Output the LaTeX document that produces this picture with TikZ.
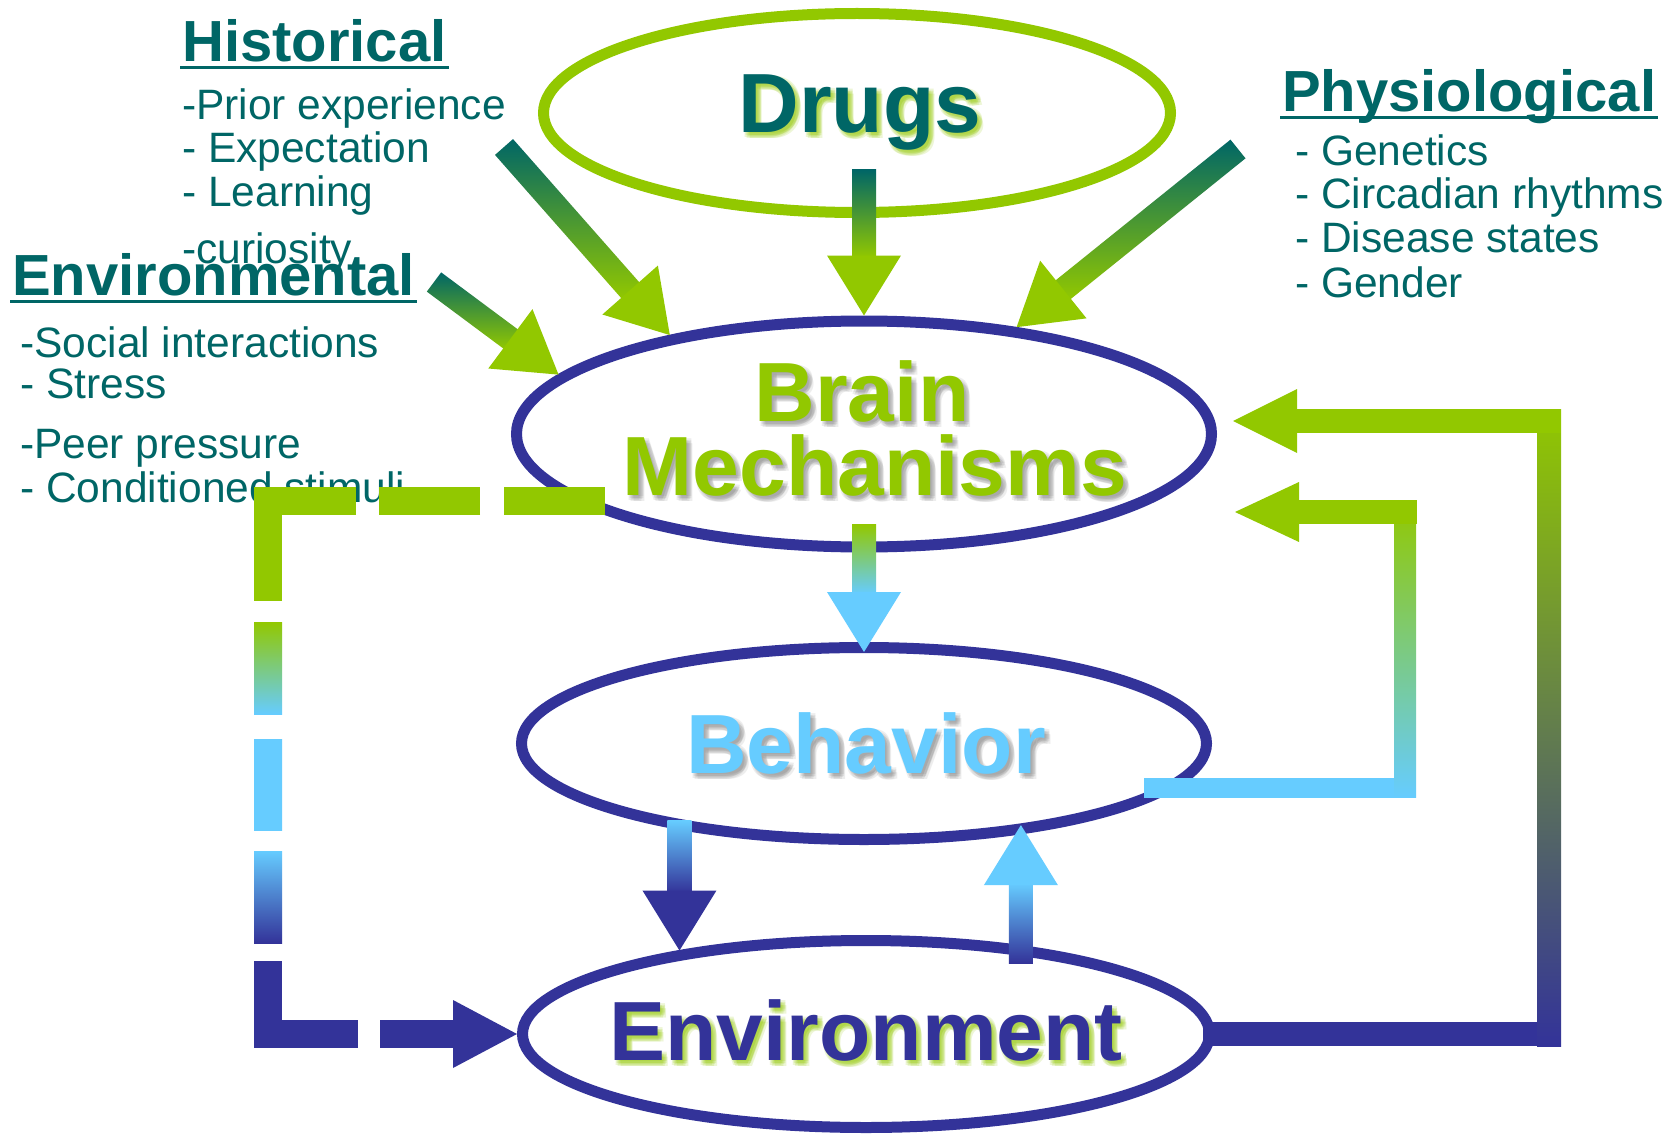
\documentclass[tikz,border=0pt]{standalone}
\usepackage{fontspec}
\setmainfont{Liberation Sans}
\usetikzlibrary{calc,shapes.geometric}

\definecolor{leaf}{RGB}{146,200,0}
\definecolor{deepteal}{RGB}{0,102,102}
\definecolor{ink}{RGB}{51,51,153}
\definecolor{sky}{RGB}{102,204,255}

% triangle head: tip, a point behind it, length, half width, colour
\newcommand\tiphead[5]{%
  \coordinate (hb) at ($(#1)!#3!(#2)$);
  \fill[#5] (#1) -- ($(hb)!#4!90:(#1)$) -- ($(hb)!#4!-90:(#1)$) -- cycle;}
% fat arrow: tail, tip, shaft shading, head colour
\newcommand\blockarrow[4]{%
  \coordinate (sb) at ($(#2)!58pt!(#1)$);
  \shade[#3] ($(#1)!12pt!90:(#2)$) -- ($(sb)!12pt!90:(#2)$) -- ($(sb)!12pt!-90:(#2)$) -- ($(#1)!12pt!-90:(#2)$) -- cycle;
  \tiphead{#2}{#1}{60pt}{37pt}{#4}}
% big label with a soft shadow under it
\newcommand\bigtext[6]{%
  \foreach \dx/\dy [count=\k] in {2/3,5/3,3/6,6/6,4/4,1/5,5/1}
    \node[bigword,text=#4,opacity=#5] (#1-s\k) at ($(#2)+(\dx,\dy)$) {#6};
  \node[bigword,text=#3] (#1) at (#2) {#6};}

\begin{document}
\begin{tikzpicture}[x=1pt,y=-1pt,
  oval/.style={ellipse,draw,line width=11,inner sep=0},
  bigword/.style={font=\fontsize{84}{74}\selectfont\bfseries,inner sep=0,anchor=base},
  heading/.style={font=\fontsize{58}{64}\selectfont\bfseries,text=deepteal,inner sep=0,anchor=base west},
  item/.style={font=\fontsize{42.5}{44}\selectfont,text=deepteal,inner sep=0,anchor=base west},
  bar/.style={line width=24},
  dashbar/.style={line width=28}]
\useasboundingbox (0,0) rectangle (1678,1134);
\fill[white] (0,0) rectangle (1678,1134);

% influences
\node[heading] (hist) at (182,62) {Historical};
\foreach \y/\t [count=\i] in {120/{-Prior experience},163/{- Expectation},207/{- Learning},263/{-curiosity}}
  \node[item] (hist-\i) at (182,\y) {\t};
\node[heading] (envir) at (12,295) {Environmental};
\foreach \y/\t [count=\i] in {357/{-Social interactions},398/{- Stress},458/{-Peer pressure},502/{- Conditioned stimuli}}
  \node[item] (envir-\i) at (20,\y) {\t};
\node[heading] (phys) at (1282,112) {Physiological};
\foreach \y/\t [count=\i] in {166/{- Genetics},208/{- Circadian rhythms},252/{- Disease states},297/{- Gender}}
  \node[item] (phys-\i) at (1295,\y) {\t};
\foreach \h in {hist,envir,phys}
  \draw[deepteal,line width=3] ($(\h.base west)+(-2,6)$) -- ($(\h.base east)+(2,6)$);

% the four ovals
\node[oval,draw=leaf,minimum width=627,minimum height=199] (drugs) at (857,113) {};
\node[oval,draw=ink,minimum width=695,minimum height=226] (brain) at (864,434) {};
\node[oval,draw=ink,minimum width=685,minimum height=192] (behav) at (864,743.5) {};
\node[oval,draw=ink,minimum width=687,minimum height=187] (env) at (866,1034) {};
\bigtext{drugs-t}{860,133}{deepteal}{leaf}{.16}{Drugs}
\bigtext{brain-t1}{862,421}{leaf}{black!55}{.12}{Brain}
\bigtext{brain-t2}{875,495}{leaf}{black!55}{.12}{Mechanisms}
\bigtext{behav-t}{866,773}{sky}{black!55}{.12}{Behavior}
\bigtext{env-t}{866,1060}{ink}{leaf}{.16}{Environment}

% arrows into the brain
\coordinate (hist-from) at (504,147);
\coordinate (envir-from) at (434,282);
\coordinate (phys-from) at (1238,149);
\coordinate (drugs-from) at ($(drugs.south -| brain.north)+(0,-48)$);
\blockarrow{hist-from}{brain.153}{top color=deepteal,bottom color=leaf}{leaf}
\blockarrow{envir-from}{brain.169}{top color=deepteal,bottom color=leaf}{leaf}
\blockarrow{drugs-from}{brain.north}{top color=deepteal,bottom color=leaf}{leaf}
\blockarrow{phys-from}{brain.35}{top color=deepteal,bottom color=leaf}{leaf}

% down the middle
\coordinate (brain-from) at ($(brain.south)+(0,-28)$);
\coordinate (behav-in) at ($(behav.north)+(0,10)$);
\coordinate (behav-from) at ($(behav.205)+(0,-9)$);
\coordinate (env-in) at (behav.205 |- env.156);
\coordinate (behav-up) at ($(behav.330)+(0,-9)$);
\coordinate (env-from) at ($(behav.330 |- env.north)+(0,28)$);
\blockarrow{brain-from}{behav-in}{top color=leaf,bottom color=sky}{sky}
\blockarrow{behav-from}{env-in}{top color=sky,bottom color=ink}{ink}
\blockarrow{env-from}{behav-up}{top color=sky,bottom color=ink}{sky}

% feedback on the right
\coordinate (fb-out) at ($(brain.east)+(16,-13)$);
\coordinate (rail-out) at (1549,0);
\coordinate (corner-out) at (fb-out -| rail-out);
\draw[bar,ink,line cap=rect] (env.east) -- (env.east -| rail-out);
\shade[top color=leaf,bottom color=ink] ($(env.east -| rail-out)+(-12,12)$) rectangle ($(corner-out)+(12,-12)$);
\draw[bar,leaf,line cap=rect,shorten >=62pt] (corner-out) -- (fb-out);
\tiphead{fb-out}{corner-out}{64pt}{32pt}{leaf}

\coordinate (fb-in) at ($(brain.east)+(18,78)$);
\coordinate (beh-out) at ($(behav.east)+(-58,44)$);
\coordinate (rail-in) at (1405,0);
\coordinate (corner-in) at (fb-in -| rail-in);
\draw[bar,sky,line width=20,line cap=rect] (beh-out) -- (beh-out -| rail-in);
\shade[top color=leaf,bottom color=sky] ($(beh-out -| rail-in)+(-11,10)$) rectangle ($(corner-in)+(11,-12)$);
\draw[bar,leaf,line cap=rect,shorten >=62pt] (corner-in) -- (fb-in);
\tiphead{fb-in}{corner-in}{64pt}{30pt}{leaf}

% dashed return on the left
\coordinate (brain-out) at ($(brain.west)+(94,67)$);
\coordinate (rail-l) at (268,0);
\coordinate (turn-top) at (brain-out -| rail-l);
\coordinate (turn-bot) at (rail-l |- env.west);
\draw[dashbar,leaf,dash pattern=on 101pt off 24pt on 101pt off 23pt on 200pt] (brain-out) -- (turn-top) -- ++(0,100);
\foreach \ya/\yb/\ca/\cb in {121/213/leaf/sky,238/329/sky/sky,350/442/sky/ink}
  \shade[top color=\ca,bottom color=\cb] ($(turn-top)+(-14,\ya)$) rectangle ($(turn-top)+(14,\yb)$);
\draw[dashbar,ink,dash pattern=on 163pt off 22pt on 300pt,shorten >=62pt] ($(turn-bot)+(0,-73)$) -- (turn-bot) -- (env.west);
\tiphead{env.west}{turn-bot}{64pt}{34pt}{ink}
\end{tikzpicture}
\end{document}
